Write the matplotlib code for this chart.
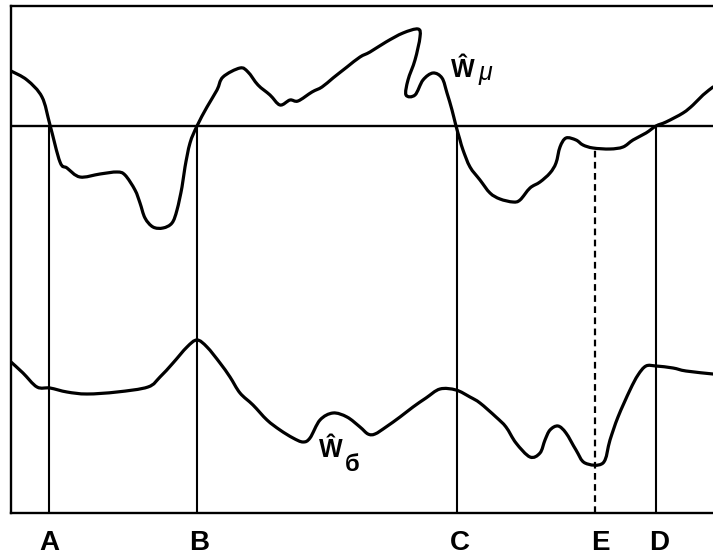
import matplotlib
matplotlib.use("Agg")
import matplotlib.pyplot as plt
import matplotlib.transforms as mtransforms
import numpy as np
from matplotlib.path import Path
from matplotlib.patches import PathPatch

plt.rcParams['font.family'] = ['Liberation Sans', 'DejaVu Sans']

# Upper curve  W-hat mu (x = position, y = value, zero line at 0)
w_mu_x = [0, 16, 31, 39, 49, 56, 69, 89, 106, 114, 124, 129, 134, 142, 152, 161, 166, 171,
          174, 179, 186, 196, 206, 212, 229, 237, 247, 259, 269, 279, 287, 301, 311, 322,
          336, 349, 359, 375, 392, 407, 409, 404, 397, 395, 404, 412, 422, 431, 436, 441,
          445, 449, 452, 459, 469, 479, 489, 502, 509, 519, 529, 539, 545, 549, 555, 565,
          572, 582, 599, 612, 622, 635, 645, 655, 672, 682, 692, 702]
w_mu_y = [55, 46, 29, 1, -36, -42, -51, -48, -46, -49, -64, -77, -92, -101, -102, -97, -84, -61,
          -41, -17, 0, 19, 36, 49, 58, 54, 41, 31, 21, 26, 25, 34, 39, 48,
          59, 69, 74, 84, 93, 97, 89, 66, 46, 31, 31, 46, 53, 48, 33, 16,
          0, -14, -24, -41, -54, -67, -73, -76, -74, -62, -56, -47, -37, -21, -12, -14,
          -19, -22, -23, -21, -14, -7, 0, 4, 13, 21, 31, 39]

# Lower curve  W-hat b
w_b_x = [0, 12, 26, 39, 56, 76, 106, 137, 149, 162, 176, 186, 196, 209, 219, 229, 242, 256,
         269, 282, 292, 299, 309, 322, 336, 349, 357, 364, 375, 389, 402, 415, 429, 445,
         459, 469, 485, 495, 505, 519, 529, 534, 539, 547, 555, 565, 574, 592, 599, 607,
         619, 627, 635, 645, 662, 675, 702]
w_b_y = [-236, -247, -261, -262, -266, -268, -266, -261, -251, -237, -221, -214, -221, -237,
         -251, -267, -279, -294, -304, -312, -316, -312, -294, -287, -291, -301, -308, -308,
         -301, -291, -281, -272, -263, -264, -271, -277, -291, -301, -317, -331, -327, -314,
         -304, -300, -307, -324, -337, -337, -314, -291, -264, -249, -240, -240, -242, -245,
         -248]

# Marked points
mark_labels = ['A', 'B', 'C', 'E', 'D']
mark_x = [38, 186, 446, 584, 645]
mark_top = [0, 0, 0, -23, 0]
mark_dashed = [False, False, False, True, False]


def smooth_path(xs, ys):
    """Catmull-Rom curve through the read points, drawn as cubic Bezier segments."""
    p = np.column_stack([xs, ys]).astype(float)
    p_ext = np.vstack([p[0], p, p[-1]])
    verts = [p[0]]
    codes = [Path.MOVETO]
    for i in range(1, len(p_ext) - 2):
        p0, p1, p2, p3 = p_ext[i - 1], p_ext[i], p_ext[i + 1], p_ext[i + 2]
        c1 = p1 + (p2 - p0) / 6.0
        c2 = p2 - (p3 - p1) / 6.0
        verts += [c1, c2, p2]
        codes += [Path.CURVE4] * 3
    return Path(verts, codes)


fig = plt.figure(figsize=(7.13, 5.60), dpi=100)
ax = fig.add_axes([11 / 713, 47 / 560, 702 / 713, 507 / 560])
ax.set_xlim(0, 702)
ax.set_ylim(-387, 120)

for s in ['left', 'top', 'bottom']:
    ax.spines[s].set_linewidth(1.7)
    ax.spines[s].set_color('black')
ax.spines['right'].set_visible(False)
ax.set_yticks([])

ax.axhline(0, color='black', lw=1.7)

for xs, ys in [(w_mu_x, w_mu_y), (w_b_x, w_b_y)]:
    ax.add_patch(PathPatch(smooth_path(xs, ys), facecolor='none', edgecolor='black',
                           lw=2.3, joinstyle='round', capstyle='round'))

for x, top, dashed in zip(mark_x, mark_top, mark_dashed):
    if dashed:
        ax.plot([x, x], [-387, top], color='black', lw=1.6, dashes=(3, 2))
    else:
        ax.plot([x, x], [-387, top], color='black', lw=1.5)

ax.set_xticks(mark_x)
ax.set_xticklabels(mark_labels, fontsize=20, fontweight='bold')
ax.tick_params(axis='x', length=0, pad=12.5)
for lbl, dx in zip(ax.get_xticklabels(), [0, 2, 3, 5, 3]):
    lbl.set_transform(lbl.get_transform() +
                      mtransforms.ScaledTranslation(dx / 100, 0, fig.dpi_scale_trans))

ax.text(440, 49, '\u0174', fontsize=18, fontweight='bold', ha='left', va='baseline')
ax.text(468, 46, '\u03bc', fontsize=18, style='italic', ha='left', va='baseline')
ax.text(308, -331, '\u0174', fontsize=18, fontweight='bold', ha='left', va='baseline')
ax.text(334, -345, '\u0431', fontsize=17, fontweight='bold', ha='left', va='baseline')

fig.savefig('out.png', dpi=100)
